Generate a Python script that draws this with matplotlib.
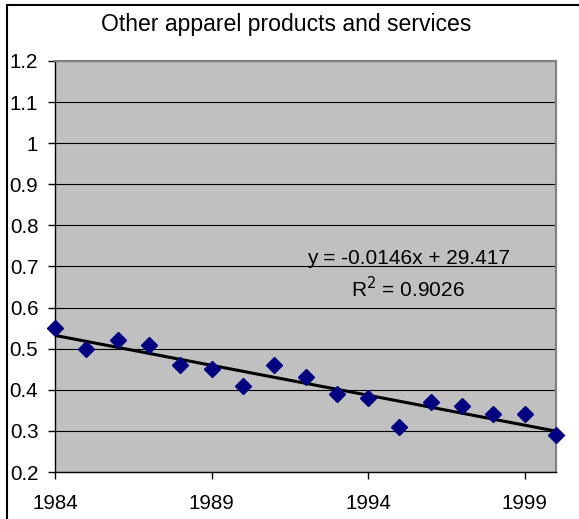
import matplotlib
matplotlib.use("Agg")
import matplotlib.pyplot as plt
from matplotlib.lines import Line2D
import numpy as np

plt.rcParams['font.family'] = ['Liberation Sans', 'DejaVu Sans']

years = [1984, 1985, 1986, 1987, 1988, 1989, 1990, 1991, 1992,
         1993, 1994, 1995, 1996, 1997, 1998, 1999, 2000]
values = [0.55, 0.50, 0.52, 0.51, 0.46, 0.45, 0.41, 0.46, 0.43,
          0.39, 0.38, 0.31, 0.37, 0.36, 0.34, 0.34, 0.29]
x_ticks = [1984, 1989, 1994, 1999]
y_ticks = [0.2, 0.3, 0.4, 0.5, 0.6, 0.7, 0.8, 0.9, 1.0, 1.1, 1.2]
y_tick_labels = ["0.2", "0.3", "0.4", "0.5", "0.6", "0.7", "0.8", "0.9", "1", "1.1", "1.2"]
title = "Other apparel products and services"
eq_text = "y = -0.0146x + 29.417"
r2_text = "R$^2$ = 0.9026"

W, H = 579, 519
fig = plt.figure(figsize=(W / 100, H / 100), dpi=100)
fig.patch.set_facecolor("white")

ax = fig.add_axes([55 / W, 1 - 472 / H, (556 - 55) / W, (472 - 61) / H])
ax.set_facecolor("#C0C0C0")

x = np.array(years, dtype=float)
y = np.array(values)
slope, intercept = np.polyfit(x, y, 1)
xs = np.array([years[0], years[-1]], dtype=float)
ax.plot(xs, slope * xs + intercept, color="black", lw=2.2, zorder=3)

ax.plot(x, y, linestyle="none", marker="D", ms=8, color="#000080",
        markeredgecolor="#000080", clip_on=False, zorder=4)

ax.set_xlim(1984, 2000)
ax.set_ylim(0.2, 1.2)
ax.set_xticks(x_ticks)
ax.set_xticklabels([str(t) for t in x_ticks])
ax.set_yticks(y_ticks)
ax.set_yticklabels(y_tick_labels)
ax.tick_params(axis="both", direction="out", length=5, width=1, color="black",
               labelsize=14.8)
ax.tick_params(axis="y", pad=7)
ax.tick_params(axis="x", pad=11)

ax.grid(axis="y", color="black", lw=0.8, zorder=1)
ax.set_axisbelow(True)
for side in ("left", "bottom"):
    ax.spines[side].set_color("black")
    ax.spines[side].set_linewidth(1)
for side in ("top", "right"):
    ax.spines[side].set_color("#808080")
    ax.spines[side].set_linewidth(1.5)

ax.text(1995.29, 0.719, eq_text, ha="center", va="center", fontsize=15)
ax.text(1995.27, 0.647, r2_text, ha="center", va="center", fontsize=15)

fig.text(286 / W, 1 - 25 / H, title, ha="center", va="center", fontsize=16.6)

# chart area frame
fig.add_artist(Line2D([7 / W, 1.0], [1 - 5 / H, 1 - 5 / H], color="black", lw=1.5,
                      transform=fig.transFigure))
fig.add_artist(Line2D([7 / W, 7 / W], [0.0, 1 - 5 / H], color="black", lw=1.5,
                      transform=fig.transFigure))

fig.savefig("out.png", dpi=100)
